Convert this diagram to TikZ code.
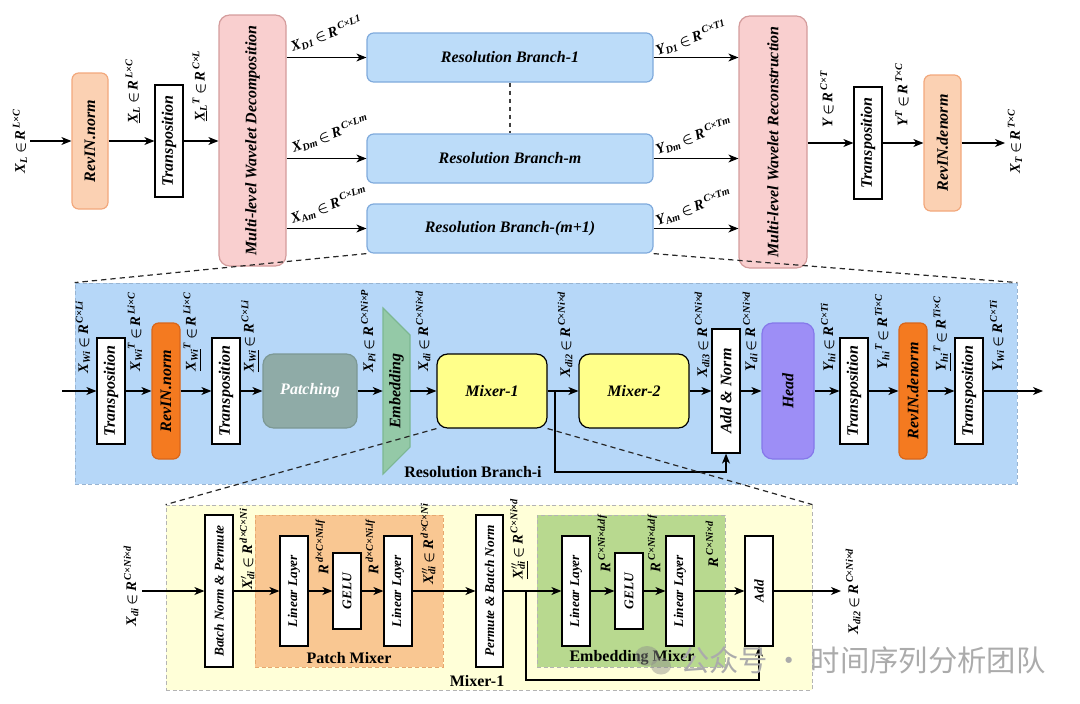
\documentclass[tikz,border=0pt]{standalone}
\usepackage{fontspec}
\setmainfont{Liberation Serif}
\newfontfamily\cjk{Noto Sans CJK SC}
\usepackage{amsmath}
\usetikzlibrary{arrows.meta,fit,calc}
\definecolor{peachf}{HTML}{FBD1B3}
\definecolor{peachd}{HTML}{F2A87C}
\definecolor{pinkf}{HTML}{F9CFCF}
\definecolor{pinkd}{HTML}{D49C9C}
\definecolor{bluef}{HTML}{BCDCF9}
\definecolor{blued}{HTML}{7FAADC}
\definecolor{bandf}{HTML}{B6D7F8}
\definecolor{bandd}{HTML}{98B4D2}
\definecolor{orngf}{HTML}{F47A20}
\definecolor{orngd}{HTML}{D9661A}
\definecolor{tealf}{HTML}{8FABA7}
\definecolor{teald}{HTML}{7C9894}
\definecolor{grnf}{HTML}{94C9A7}
\definecolor{grnd}{HTML}{7CB792}
\definecolor{yelf}{HTML}{FFFF8A}
\definecolor{purpf}{HTML}{9D8EF6}
\definecolor{purpd}{HTML}{8578EA}
\definecolor{lyelf}{HTML}{FFFFD8}
\definecolor{pmixf}{HTML}{F9C792}
\definecolor{pmixd}{HTML}{E7A86E}
\definecolor{emixf}{HTML}{B8D98F}
\definecolor{frmd}{HTML}{B4B4B4}
\newcommand\lsub[1]{\textsubscript{#1}}
\newcommand\lsup[1]{\textsuperscript{#1}}
\newcommand\inR{\,{$\boldsymbol{\in}$}\,R}
% box by corners: name, style, x1, y1, x2, y2, text
\newcommand\bx[7]{%
  \pgfmathsetmacro\bxw{(#5-#3)*0.75}%
  \pgfmathsetmacro\bxh{(#6-#4)*0.75}%
  \node[#2, minimum width=\bxw pt, minimum height=\bxh pt] (#1) at ({(#3+#5)/2},{(#4+#6)/2}) {#7};}
\begin{document}
\begin{tikzpicture}[x=0.75pt,y=-0.75pt,
  box/.style={draw=black, line width=0.9pt, inner sep=0pt, font=\fontsize{12}{14}\selectfont\bfseries\itshape},
  wbox/.style={box, fill=white},
  sbox/.style={box, fill=white, font=\fontsize{10}{12}\selectfont\bfseries\itshape},
  rbox/.style={box, rounded corners=5pt},
  region/.style={inner sep=0pt, dashed, dash pattern=on 3pt off 2pt, line width=0.6pt},
  arr/.style={-{Stealth[length=7.5pt,width=6pt,inset=2.2pt]}, line width=0.9pt},
  lbl/.style={font=\fontsize{11}{13}\selectfont\bfseries\itshape, inner sep=0.5pt, rotate=90, anchor=west},
  slbl/.style={font=\fontsize{11}{13}\selectfont\bfseries\itshape, inner sep=0.5pt, rotate=20, anchor=base west},
  ttl/.style={font=\fontsize{12}{14}\selectfont\bfseries, inner sep=0pt},
  zoomline/.style={dashed, dash pattern=on 4pt off 3pt, line width=0.9pt, black!85}]
\useasboundingbox (0,0) rectangle (1080,703);

% ---------- backgrounds ----------
\node[region, draw=bandd, fill=bandf, fit={(75,283) (1017,484)}] (band) {};
\node[region, draw=frmd, fill=lyelf, fit={(166,505) (812,690)}] (mix) {};
\node[region, draw=pmixd, fill=pmixf, fit={(255,515) (443,667)}] (pm) {};
\node[region, draw=frmd, fill=emixf, fit={(537,515) (725,667)}] (em) {};

% ---------- top row ----------
\coordinate (in0) at (30,141);
\bx{rn}{rbox, draw=peachd, fill=peachf}{72}{73}{108}{209}{\rotatebox{90}{RevIN.norm}}
\bx{tr1}{wbox}{155}{85}{183}{197}{\rotatebox{90}{Transposition}}
\bx{dec}{rbox, draw=pinkd, fill=pinkf, rounded corners=8pt}{219}{15}{286}{266}{\rotatebox{90}{Multi-level Wavelet Decomposition}}
\bx{rb1}{rbox, draw=blued, fill=bluef}{367}{33}{653}{82}{Resolution Branch-1}
\bx{rbm}{rbox, draw=blued, fill=bluef}{367}{134}{653}{183}{Resolution Branch-m}
\bx{rbl}{rbox, draw=blued, fill=bluef}{367}{204}{653}{253}{Resolution Branch-(m+1)}
\bx{rec}{rbox, draw=pinkd, fill=pinkf, rounded corners=8pt}{739}{16}{807}{268}{\rotatebox{90}{Multi-level Wavelet Reconstruction}}
\bx{tr2}{wbox}{854}{87}{882}{199}{\rotatebox{90}{Transposition}}
\bx{rdn}{rbox, draw=peachd, fill=peachf}{924}{75}{961}{211}{\rotatebox{90}{RevIN.denorm}}
\coordinate (out0) at (1005,143);

\draw[arr] (in0) -- (rn);
\draw[arr] (rn) -- (tr1);
\draw[arr] (tr1) -- (dec.west |- tr1);
\draw[arr] (dec.east |- rb1) -- (rb1);
\draw[arr] (dec.east |- rbm) -- (rbm);
\draw[arr] (dec.east |- rbl) -- (rbl);
\draw[arr] (rb1) -- (rec.west |- rb1);
\draw[arr] (rbm) -- (rec.west |- rbm);
\draw[arr] (rbl) -- (rec.west |- rbl);
\draw[arr] (rec.east |- tr2) -- (tr2);
\draw[arr] (tr2) -- (rdn);
\draw[arr] (rdn) -- (out0);
\draw[dashed, dash pattern=on 3pt off 3pt, line width=0.8pt, black!75] (rb1.south) -- (rbm.north);

\node[lbl] (l1) at (20,174) {X\lsub{L}\inR\lsup{\,L×C}};
\node[lbl] (l2) at (133,124) {\underline{X}\lsub{L}\inR\lsup{\,L×C}};
\node[lbl] (l3) at (200,122) {\underline{X}\lsub{L}\lsup{T}\inR\lsup{\,C×L}};
\node[slbl] (l4) at (292,52) {X\lsub{D1}\inR\lsup{\,C×L1}};
\node[slbl] (l5) at (293,153) {X\lsub{Dm}\inR\lsup{\,C×Lm}};
\node[slbl] (l6) at (292,224) {X\lsub{Am}\inR\lsup{\,C×Lm}};
\node[slbl] (l7) at (657,56) {Y\lsub{D1}\inR\lsup{\,C×T1}};
\node[slbl] (l8) at (657,155) {Y\lsub{Dm}\inR\lsup{\,C×Tm}};
\node[slbl] (l9) at (657,226) {Y\lsub{Am}\inR\lsup{\,C×Tm}};
\node[lbl] (l10) at (827,128) {Y\inR\lsup{\,C×T}};
\node[lbl] (l11) at (902,127) {Y\lsup{T}\inR\lsup{\,T×C}};
\node[lbl] (l12) at (1015,174) {X\lsub{T}\inR\lsup{\,T×C}};

% ---------- middle band ----------
\coordinate (a1) at (62,391);
\bx{t1}{wbox}{97}{338}{125}{444}{\rotatebox{90}{Transposition}}
\bx{rn2}{rbox, draw=orngd, fill=orngf}{152}{323}{180}{459}{\rotatebox{90}{RevIN.norm}}
\bx{t2}{wbox}{212}{338}{240}{444}{\rotatebox{90}{Transposition}}
\bx{pat}{rbox, rounded corners=8pt, draw=teald, fill=tealf, text=white}{263}{354}{357}{428}{Patching}
\fill[grnf, draw=grnd, line width=0.8pt] (383,308) -- (410,335) -- (410,447) -- (383,474) -- cycle;
\bx{emb}{inner sep=0pt, font=\fontsize{12}{14}\selectfont\bfseries\itshape}{383}{308}{410}{474}{\rotatebox{90}{Embedding}}
\bx{mx1}{rbox, rounded corners=8pt, fill=yelf}{437}{354}{547}{428}{Mixer-1}
\bx{mx2}{rbox, rounded corners=8pt, fill=yelf}{579}{354}{689}{428}{Mixer-2}
\bx{an}{wbox}{712}{329}{740}{453}{\rotatebox{90}{Add \& Norm}}
\bx{hd}{rbox, rounded corners=8pt, draw=purpd, fill=purpf}{762}{323}{814}{459}{\rotatebox{90}{Head}}
\bx{t3}{wbox}{840}{338}{868}{444}{\rotatebox{90}{Transposition}}
\bx{rdn2}{rbox, draw=orngd, fill=orngf}{899}{323}{927}{459}{\rotatebox{90}{RevIN.denorm}}
\bx{t4}{wbox}{955}{338}{983}{444}{\rotatebox{90}{Transposition}}
\coordinate (b1) at (1043,391);
\node[ttl] (rbi) at (473,472) {Resolution Branch-i};

\draw[arr] (a1) -- (t1);
\draw[arr] (t1) -- (rn2);
\draw[arr] (rn2) -- (t2);
\draw[arr] (t2) -- (pat);
\draw[arr] (pat) -- (emb);
\draw[arr] (emb) -- (mx1);
\draw[arr] (mx1) -- (mx2);
\draw[arr] (mx2) -- (an);
\draw[arr] (an) -- (hd);
\draw[arr] (hd) -- (t3);
\draw[arr] (t3) -- (rdn2);
\draw[arr] (rdn2) -- (t4);
\draw[arr] (t4) -- (b1);
\coordinate (sk) at (555,391);
\coordinate (skb) at (555,472);
\draw[arr] (sk) -- (skb) -| (an.south);

\node[lbl] (m1) at (83,374) {X\lsub{Wi}\inR\lsup{\,C×Li}};
\node[lbl] (m2) at (135,372) {X\lsub{Wi}\lsup{T}\inR\lsup{\,Li×C}};
\node[lbl] (m3) at (192,372) {\underline{X\lsub{Wi}}\lsup{T}\inR\lsup{\,Li×C}};
\node[lbl] (m4) at (250,373) {\underline{X\lsub{Wi}}\inR\lsup{\,C×Li}};
\node[lbl] (m5) at (368,373) {X\lsub{Pi}\inR\lsup{\,C×Ni×P}};
\node[lbl] (m6) at (423,372) {X\lsub{di}\inR\lsup{\,C×Ni×d}};
\node[lbl] (m7) at (565,378) {X\lsub{di2}\inR\lsup{\,C×Ni×d}};
\node[lbl] (m8) at (702,378) {X\lsub{di3}\inR\lsup{\,C×Ni×d}};
\node[lbl] (m9) at (750,372) {Y\lsub{di}\inR\lsup{\,C×Ni×d}};
\node[lbl] (m10) at (828,372) {Y\lsub{hi}\inR\lsup{\,C×Ti}};
\node[lbl] (m11) at (882,370) {Y\lsub{hi}\lsup{T}\inR\lsup{\,Ti×C}};
\node[lbl] (m12) at (942,372) {\underline{Y\lsub{hi}}\lsup{T}\inR\lsup{\,Ti×C}};
\node[lbl] (m13) at (997,372) {Y\lsub{Wi}\inR\lsup{\,C×Ti}};

% ---------- bottom: Mixer-1 ----------
\coordinate (c1) at (142,591);
\bx{bnp}{sbox}{205}{515}{233}{667}{\rotatebox{90}{Batch Norm \& Permute}}
\bx{ll1}{sbox}{280}{536}{308}{646}{\rotatebox{90}{Linear Layer}}
\bx{ge1}{sbox}{333}{553}{361}{629}{\rotatebox{90}{GELU}}
\bx{ll2}{sbox}{384}{536}{412}{646}{\rotatebox{90}{Linear Layer}}
\bx{pbn}{sbox}{476}{515}{503}{667}{\rotatebox{90}{Permute \& Batch Norm}}
\bx{ll3}{sbox}{562}{536}{590}{646}{\rotatebox{90}{Linear Layer}}
\bx{ge2}{sbox}{615}{553}{643}{629}{\rotatebox{90}{GELU}}
\bx{ll4}{sbox}{666}{536}{694}{646}{\rotatebox{90}{Linear Layer}}
\bx{add}{sbox}{745}{536}{773}{646}{\rotatebox{90}{Add}}
\coordinate (c2) at (841,591);
\node[ttl] (pmt) at (349,658) {Patch Mixer};
\node[ttl] (emt) at (632,658) {Embedding Mixer};
\node[ttl] (mxt) at (477,681) {Mixer-1};

\draw[arr] (c1) -- (bnp);
\draw[arr] (bnp) -- (ll1);
\draw[arr] (ll1) -- (ge1);
\draw[arr] (ge1) -- (ll2);
\draw[arr] (ll2) -- (pbn);
\draw[arr] (pbn) -- (ll3);
\draw[arr] (ll3) -- (ge2);
\draw[arr] (ge2) -- (ll4);
\draw[arr] (ll4) -- (add);
\draw[arr] (add) -- (c2);
\coordinate (sk2) at (526,591);
\coordinate (sk2b) at (526,680);
\draw[arr] (sk2) -- (sk2b) -| (add.south);

\node[lbl] (n1) at (131,627) {X\lsub{di}\inR\lsup{\,C×Ni×d}};
\node[lbl] (n2) at (247,590) {X\rlap{\lsup{$\prime$}}\lsub{di}\inR\lsup{\,d×C×Ni}};
\node[lbl] (n3) at (322,575) {R\lsup{\,d×C×Ni.lf}};
\node[lbl] (n4) at (372,575) {R\lsup{\,d×C×Ni.lf}};
\node[lbl] (n5) at (428,585) {X\rlap{\lsup{$\prime\prime$}}\lsub{di}\inR\lsup{\,d×C×Ni}};
\node[lbl] (n6) at (519,580) {\underline{X\rlap{\lsup{$\prime\prime$}}\lsub{di}}\inR\lsup{\,C×Ni×d}};
\node[lbl] (n7) at (604,573) {R\lsup{\,C×Ni×d.df}};
\node[lbl] (n8) at (654,573) {R\lsup{\,C×Ni×d.df}};
\node[lbl] (n9) at (712,568) {R\lsup{\,C×Ni×d}};
\node[lbl] (n10) at (853,635) {X\lsub{di2}\inR\lsup{\,C×Ni×d}};

% ---------- zoom lines ----------
\draw[zoomline] (rbl.south west) -- (band.north west);
\draw[zoomline] (rbl.south east) -- (band.north east);
\draw[zoomline] (mx1.south west) -- (mix.north west);
\draw[zoomline] (mx1.south east) -- (mix.north east);

% ---------- watermark ----------
\fill[black!45, opacity=0.45] (647,656) ellipse (12 and 10);
\fill[black!45, opacity=0.45] (661,666) ellipse (10 and 8.5);
\node[font=\cjk\fontsize{22}{24}\selectfont, text=black!33, anchor=west, inner sep=0pt] (wm) at (680,660) {公众号 · 时间序列分析团队};
\end{tikzpicture}
\end{document}
